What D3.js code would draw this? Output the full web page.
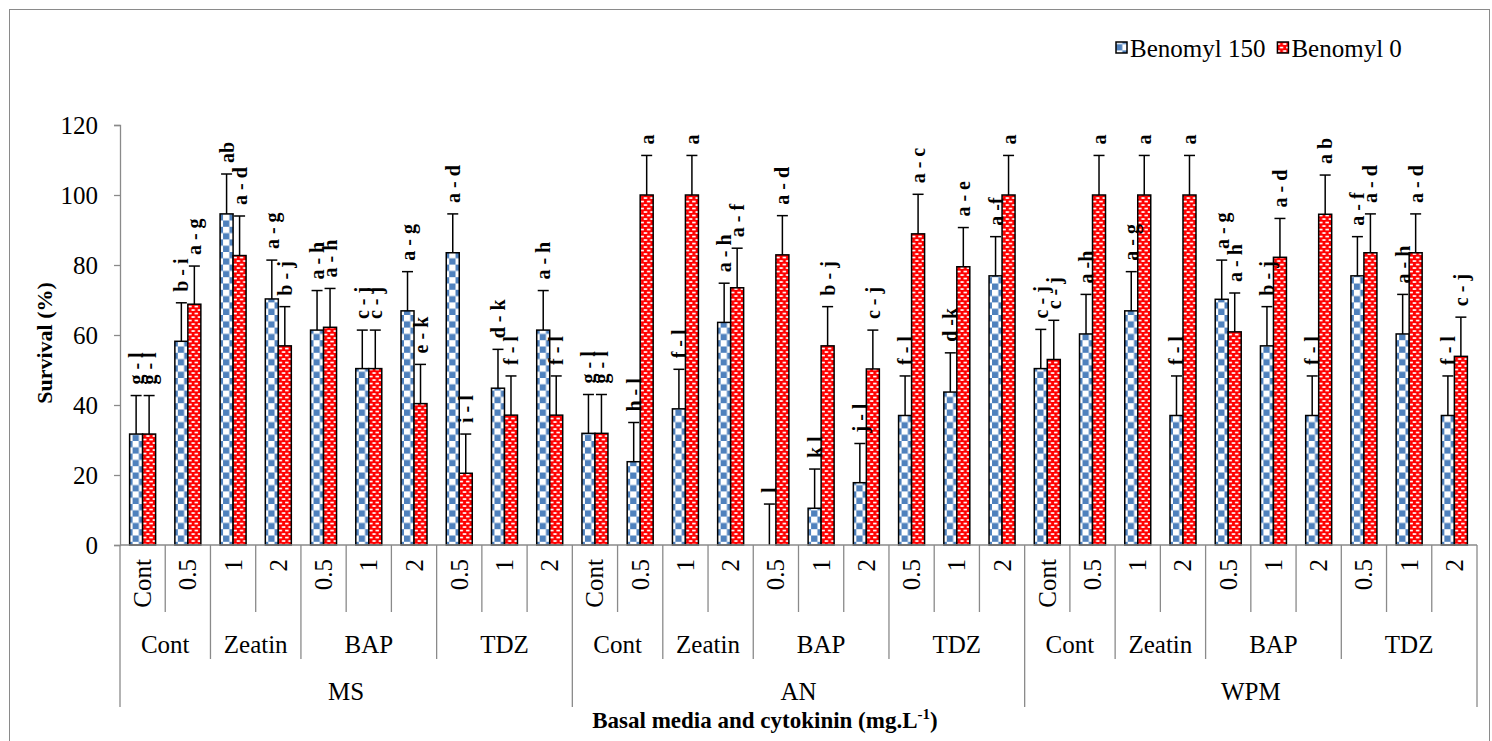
<!DOCTYPE html>
<html>
<head>
<meta charset="utf-8">
<script src="https://cdn.jsdelivr.net/npm/d3@7"></script>
<style>
  html, body { margin: 0; padding: 0; background: #ffffff; }
  svg { display: block; font-family: "Liberation Serif", "Times New Roman", serif; }
</style>
</head>
<body>
<svg id="chart" width="1492" height="741"></svg>
<script>
// Survival (%) by basal medium, cytokinin and concentration, with and without benomyl.
const medium = [
  "MS","MS","MS","MS","MS","MS","MS","MS","MS","MS",
  "AN","AN","AN","AN","AN","AN","AN","AN","AN","AN",
  "WPM","WPM","WPM","WPM","WPM","WPM","WPM","WPM","WPM","WPM"
];
const cytokinin = [
  "Cont","Cont","Zeatin","Zeatin","BAP","BAP","BAP","TDZ","TDZ","TDZ",
  "Cont","Cont","Zeatin","Zeatin","BAP","BAP","BAP","TDZ","TDZ","TDZ",
  "Cont","Cont","Zeatin","Zeatin","BAP","BAP","BAP","TDZ","TDZ","TDZ"
];
const concentration = [
  "Cont","0.5","1","2","0.5","1","2","0.5","1","2",
  "Cont","0.5","1","2","0.5","1","2","0.5","1","2",
  "Cont","0.5","1","2","0.5","1","2","0.5","1","2"
];

const seriesNames = ["Benomyl 150", "Benomyl 0"];

const benomyl150 = [
  31.7, 58.2, 94.6, 70.3, 61.4, 50.4, 66.9, 83.5, 44.8, 61.4,
  31.9, 23.8, 38.9, 63.6, 0, 10.5, 17.8, 37.0, 43.7, 76.9,
  50.4, 60.3, 66.9, 37.0, 70.2, 56.9, 37.0, 76.9, 60.3, 37.0
];
const benomyl0 = [
  31.7, 68.8, 82.7, 56.9, 62.2, 50.4, 40.4, 20.5, 37.1, 37.1,
  31.9, 100, 100, 73.5, 82.9, 56.9, 50.3, 88.9, 79.5, 100,
  53.0, 100, 100, 100, 60.9, 82.2, 94.5, 83.5, 83.5, 53.9
];
const error150 = [
  11.0, 11.0, 11.4, 11.1, 11.3, 11.0, 11.2, 11.1, 11.1, 11.3,
  11.1, 11.2, 11.3, 11.2, 11.7, 11.2, 11.2, 11.3, 11.2, 11.2,
  11.2, 11.3, 11.2, 11.3, 11.2, 11.2, 11.3, 11.2, 11.3, 11.3
];
const error0 = [
  11.0, 10.9, 11.3, 11.2, 11.1, 11.0, 11.2, 11.2, 11.2, 11.2,
  11.1, 11.3, 11.3, 11.3, 11.2, 11.2, 11.1, 11.3, 11.2, 11.3,
  11.2, 11.3, 11.3, 11.3, 11.1, 11.1, 11.2, 11.1, 11.1, 11.2
];
const letters150 = [
  "g - l","b - i","ab","a - g","a - h","c - j","a - g","a - d","d - k","a - h",
  "g - l","h - l","f - l","a - h","l","k l","j - l","f - l","d -k","a -f",
  "c - j","a -h","a - g","f - l","a - g","b - j","f - l","a - f","a - h","f - l"
];
const letters0 = [
  "g - l","a - g","a - d","b - j","a - h","c - j","e - k","i - l","f - l","f - l",
  "g - l","a","a","a - f","a - d","b - j","c - j","a - c","a - e","a",
  "c - j","a","a","a","a - h","a - d","a b","a - d","a - d","c - j"
];

const yTicks = [0, 20, 40, 60, 80, 100, 120];
const yTitle = "Survival (%)";

const svg = d3.select("#chart");
const W = 1492, H = 741;
const margin = { left: 120, right: 15, top: 125, bottom: 196 };
const plotRight = W - margin.right;
const plotBottom = H - margin.bottom;
const axisColor = "#8a8a8a";

// outer chart frame
svg.append("rect")
  .attr("x", 9.5).attr("y", 9.5)
  .attr("width", 1480).attr("height", 745)
  .attr("fill", "none").attr("stroke", axisColor).attr("stroke-width", 1);

// fill patterns
const defs = svg.append("defs");
const blueFill = "#4f81bd";
const redFill = "#ff0000";
const checker = defs.append("pattern")
  .attr("id", "checker").attr("patternUnits", "userSpaceOnUse")
  .attr("width", 12.6).attr("height", 12.6);
checker.append("rect").attr("width", 12.6).attr("height", 12.6).attr("fill", "#ffffff");
checker.append("rect").attr("x", 6.3).attr("y", 0).attr("width", 6.3).attr("height", 6.3).attr("fill", blueFill);
checker.append("rect").attr("x", 0).attr("y", 6.3).attr("width", 6.3).attr("height", 6.3).attr("fill", blueFill);

const dashes = defs.append("pattern")
  .attr("id", "dashes").attr("patternUnits", "userSpaceOnUse")
  .attr("width", 6.4).attr("height", 7);
dashes.append("rect").attr("width", 6.4).attr("height", 7).attr("fill", redFill);
dashes.append("rect").attr("x", 0.6).attr("y", 1.2).attr("width", 3.4).attr("height", 1.7).attr("fill", "#ffffff");
dashes.append("rect").attr("x", 3.8).attr("y", 4.7).attr("width", 2.6).attr("height", 1.7).attr("fill", "#ffffff");
dashes.append("rect").attr("x", 0).attr("y", 4.7).attr("width", 0.8).attr("height", 1.7).attr("fill", "#ffffff");

const fills = ["url(#checker)", "url(#dashes)"];

// scales
const idx = d3.range(concentration.length);
const x = d3.scaleBand().domain(idx).range([margin.left, plotRight]).paddingInner(0).paddingOuter(0);
const x1 = d3.scaleBand().domain(seriesNames).range([0, x.bandwidth()]).paddingInner(0).paddingOuter(0.74);
const y = d3.scaleLinear().domain([0, 120]).range([plotBottom, margin.top]);

// y axis
const yAxis = svg.append("g")
  .attr("transform", `translate(${margin.left},0)`)
  .call(d3.axisLeft(y).tickValues(yTicks).tickSize(6).tickPadding(16).tickFormat(d3.format("d")));
yAxis.attr("font-family", null);
yAxis.select(".domain").attr("stroke", axisColor).attr("stroke-width", 1.3);
yAxis.selectAll(".tick line").attr("stroke", axisColor).attr("stroke-width", 1.3);
yAxis.selectAll(".tick text")
  .attr("fill", "#000").attr("font-size", 25);

svg.append("text")
  .attr("transform", `translate(44,${(margin.top + plotBottom) / 2 + 8}) rotate(-90)`)
  .attr("text-anchor", "middle").attr("dominant-baseline", "central")
  .attr("font-size", 22).attr("font-weight", "bold")
  .text(yTitle);

// bars
const rows = idx.map(i => ({
  i,
  items: [
    { s: seriesNames[0], v: benomyl150[i], e: error150[i], lab: letters150[i], k: 0 },
    { s: seriesNames[1], v: benomyl0[i], e: error0[i], lab: letters0[i], k: 1 }
  ]
}));

const cat = svg.append("g").selectAll("g")
  .data(rows).join("g")
  .attr("transform", d => `translate(${x(d.i)},0)`);

cat.selectAll("rect.bar")
  .data(d => d.items.filter(t => t.v > 0))
  .join("rect").attr("class", "bar")
  .attr("x", t => x1(t.s))
  .attr("width", x1.bandwidth())
  .attr("y", t => y(t.v))
  .attr("height", t => y(0) - y(t.v))
  .attr("fill", t => fills[t.k])
  .attr("stroke", "#000").attr("stroke-width", 1.5);

// error bars (upper)
const capHalf = 5.5;
const eb = cat.selectAll("g.err").data(d => d.items).join("g").attr("class", "err")
  .attr("stroke", "#000").attr("stroke-width", 1.5);
eb.append("line")
  .attr("x1", t => x1(t.s) + x1.bandwidth() / 2)
  .attr("x2", t => x1(t.s) + x1.bandwidth() / 2)
  .attr("y1", t => y(t.v)).attr("y2", t => y(t.v + t.e));
eb.append("line")
  .attr("x1", t => x1(t.s) + x1.bandwidth() / 2 - capHalf)
  .attr("x2", t => x1(t.s) + x1.bandwidth() / 2 + capHalf)
  .attr("y1", t => y(t.v + t.e)).attr("y2", t => y(t.v + t.e));

// significance letters
cat.selectAll("text.lab").data(d => d.items).join("text").attr("class", "lab")
  .attr("transform", t => `translate(${x1(t.s) + x1.bandwidth() / 2},${y(t.v + t.e) - 11}) rotate(-90)`)
  .attr("text-anchor", "start").attr("dominant-baseline", "central")
  .attr("font-size", 20).attr("font-weight", "bold")
  .text(t => t.lab);

// x axis baseline
svg.append("line")
  .attr("x1", margin.left).attr("x2", plotRight)
  .attr("y1", y(0)).attr("y2", y(0))
  .attr("stroke", axisColor).attr("stroke-width", 1.3);

// multi-level category axis
const depthLeaf = 67, depthGroup = 114, depthMedium = 162;
const boundaries = d3.range(concentration.length + 1);
const bx = i => (i < concentration.length ? x(i) : plotRight);
svg.append("g").selectAll("line").data(boundaries).join("line")
  .attr("x1", bx).attr("x2", bx)
  .attr("y1", y(0))
  .attr("y2", i => {
    if (i === 0 || i === concentration.length || medium[i] !== medium[i - 1]) return y(0) + depthMedium;
    if (cytokinin[i] !== cytokinin[i - 1]) return y(0) + depthGroup;
    return y(0) + depthLeaf;
  })
  .attr("stroke", axisColor).attr("stroke-width", 1.3);

svg.append("g").selectAll("text").data(idx).join("text")
  .attr("transform", i => `translate(${x(i) + x.bandwidth() / 2},${y(0) + 14}) rotate(-90)`)
  .attr("text-anchor", "end").attr("dominant-baseline", "central")
  .attr("font-size", 25)
  .text(i => concentration[i]);

function runs(keyFn) {
  const out = [];
  idx.forEach(i => {
    const k = keyFn(i);
    const last = out[out.length - 1];
    if (last && last.key === k) last.end = i;
    else out.push({ key: k, start: i, end: i });
  });
  return out;
}
const groupRuns = runs(i => medium[i] + "|" + cytokinin[i]);
svg.append("g").selectAll("text").data(groupRuns).join("text")
  .attr("x", r => (x(r.start) + x(r.end) + x.bandwidth()) / 2)
  .attr("y", y(0) + 108)
  .attr("text-anchor", "middle").attr("font-size", 25)
  .text(r => cytokinin[r.start]);

const mediumRuns = runs(i => medium[i]);
svg.append("g").selectAll("text").data(mediumRuns).join("text")
  .attr("x", r => (x(r.start) + x(r.end) + x.bandwidth()) / 2)
  .attr("y", y(0) + 155)
  .attr("text-anchor", "middle").attr("font-size", 25)
  .text(r => r.key);

// x axis title
const xt = svg.append("text")
  .attr("x", 765).attr("y", y(0) + 183)
  .attr("text-anchor", "middle").attr("font-size", 23).attr("font-weight", "bold");
xt.append("tspan").text("Basal media and cytokinin (mg.L");
xt.append("tspan").attr("dy", -9).attr("font-size", 15).text("-1");
xt.append("tspan").attr("dy", 9).text(")");

// legend
const legend = svg.append("g").attr("transform", "translate(1116,0)");
let lx = 0;
seriesNames.forEach((name, k) => {
  legend.append("rect")
    .attr("x", lx).attr("y", 42).attr("width", 11).attr("height", 11)
    .attr("fill", fills[k]).attr("stroke", "#000").attr("stroke-width", 1.5);
  const t = legend.append("text")
    .attr("x", lx + 14).attr("y", 57)
    .attr("font-size", 25).text(name);
  lx += 14 + t.node().getComputedTextLength() + 12;
});
</script>
</body>
</html>
